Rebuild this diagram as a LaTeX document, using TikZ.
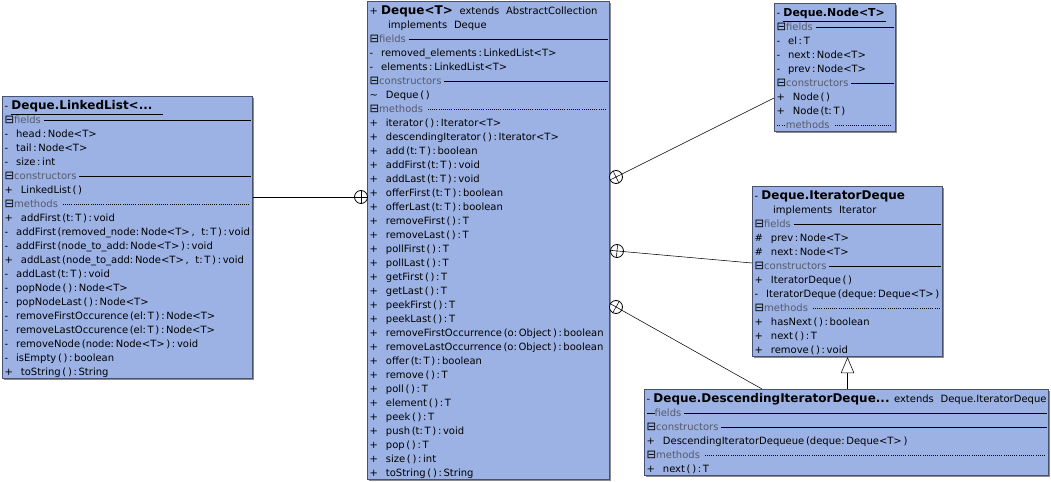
\documentclass[tikz,border=0pt]{standalone}
\usepackage{fontspec}
\setmainfont{DejaVu Sans}
\usetikzlibrary{arrows.meta,shadows}
\definecolor{boxfill}{RGB}{156,178,228}
\definecolor{boxline}{RGB}{72,82,112}
\definecolor{secgray}{RGB}{86,90,108}
\newcommand{\rs}{\rule[-1.4pt]{0pt}{10.5pt}}
\newcommand{\rse}{\rule[-1.4pt]{0pt}{1.4pt}}
\newcommand{\ttl}[1]{{\fontsize{9}{10.5}\selectfont\bfseries #1}}
\newcommand{\mem}[2]{\mbox{#1\hspace{6pt}#2}}
\newcommand{\fold}{{\fontsize{8.6}{10.5}\selectfont ⊟}}
\newcommand{\fline}{\leaders\hrule height 2.8pt depth -2.3pt\hfill}
\newcommand{\dotline}{\leaders\hbox to 1.6pt{\hss\rule[2.3pt]{0.45pt}{0.45pt}\hss}\hfill}
\newcommand{\fullrow}[1]{\leavevmode\hbox to \linewidth{#1}}
\newcommand{\sect}[1]{\fullrow{\fold{\color{secgray}#1}\hspace{2pt}\fline}}
\newcommand{\sectdot}[1]{\fullrow{\fold{\color{secgray}#1}\hspace{2pt}\dotline}}
\newcommand{\sectnone}[1]{\fullrow{\rule[2.3pt]{6pt}{0.5pt}{\color{secgray}#1}\hspace{2pt}\fline}}
\newcommand{\sectdots}[1]{\fullrow{\hbox to 7pt{\dotline}{\color{secgray}#1}\hspace{2pt}\dotline}}
\tikzset{
  classbox/.style={draw=boxline, fill=boxfill, line width=0.8pt, anchor=north west,
    align=left, inner xsep=1.5pt, inner ysep=0.75pt, font=\fontsize{7.5}{10.5}\selectfont,
    drop shadow={shadow xshift=1pt, shadow yshift=-1pt, fill=black, opacity=0.45}},
  nest/.style={circle, draw, fill=white, minimum size=9.75pt, inner sep=0pt, line width=0.6pt}
}
\begin{document}
\begin{tikzpicture}[x=0.75pt,y=-0.75pt]
\useasboundingbox (0,0) rectangle (1051,482);

% nested list class
\draw (2,96) node[classbox, text width=184.5pt] (ll) {\rs\mbox{- \underline{\ttl{Deque.LinkedList<...}\hspace{8pt}}}\\
\sect{fields}\\
\mem{-}{head\,:\,Node<T>}\\
\mem{-}{tail\,:\,Node<T>}\\
\mem{-}{size\,:\,int}\\
\sect{constructors}\\
\mem{+}{LinkedList\,(\,)}\\
\sectdot{methods}\\
\mem{+}{addFirst\,(t:\,T\,)\,:\,void}\\
\mem{-}{addFirst\,(removed\_node:\,Node<T>\,,\ \ t:\,T\,)\,:\,void}\\
\mem{-}{addFirst\,(node\_to\_add:\,Node<T>\,)\,:\,void}\\
\mem{+}{addLast\,(node\_to\_add:\,Node<T>\,,\ \ t:\,T\,)\,:\,void}\\
\mem{-}{addLast\,(t:\,T\,)\,:\,void}\\
\mem{-}{popNode\,(\,)\,:\,Node<T>}\\
\mem{-}{popNodeLast\,(\,)\,:\,Node<T>}\\
\mem{-}{removeFirstOccurence\,(el:\,T\,)\,:\,Node<T>}\\
\mem{-}{removeLastOccurence\,(el:\,T\,)\,:\,Node<T>}\\
\mem{-}{removeNode\,(node:\,Node<T>\,)\,:\,void}\\
\mem{-}{isEmpty\,(\,)\,:\,boolean}\\
\mem{+}{toString\,(\,)\,:\,String}\rse};

% main class
\draw (367,1) node[classbox, text width=178.5pt] (dq) {\rs\mbox{+ \ttl{Deque<T>}\ \ extends\ \ AbstractCollection}\\
\hspace{14pt}implements\ \ Deque\\
\sect{fields}\\
\mem{-}{removed\_elements\,:\,LinkedList<T>}\\
\mem{-}{elements\,:\,LinkedList<T>}\\
\sect{constructors}\\
\mem{\textasciitilde}{Deque\,(\,)}\\
\sectdot{methods}\\
\mem{+}{iterator\,(\,)\,:\,Iterator<T>}\\
\mem{+}{descendingIterator\,(\,)\,:\,Iterator<T>}\\
\mem{+}{add\,(t:\,T\,)\,:\,boolean}\\
\mem{+}{addFirst\,(t:\,T\,)\,:\,void}\\
\mem{+}{addLast\,(t:\,T\,)\,:\,void}\\
\mem{+}{offerFirst\,(t:\,T\,)\,:\,boolean}\\
\mem{+}{offerLast\,(t:\,T\,)\,:\,boolean}\\
\mem{+}{removeFirst\,(\,)\,:\,T}\\
\mem{+}{removeLast\,(\,)\,:\,T}\\
\mem{+}{pollFirst\,(\,)\,:\,T}\\
\mem{+}{pollLast\,(\,)\,:\,T}\\
\mem{+}{getFirst\,(\,)\,:\,T}\\
\mem{+}{getLast\,(\,)\,:\,T}\\
\mem{+}{peekFirst\,(\,)\,:\,T}\\
\mem{+}{peekLast\,(\,)\,:\,T}\\
\mem{+}{removeFirstOccurrence\,(o:\,Object\,)\,:\,boolean}\\
\mem{+}{removeLastOccurrence\,(o:\,Object\,)\,:\,boolean}\\
\mem{+}{offer\,(t:\,T\,)\,:\,boolean}\\
\mem{+}{remove\,(\,)\,:\,T}\\
\mem{+}{poll\,(\,)\,:\,T}\\
\mem{+}{element\,(\,)\,:\,T}\\
\mem{+}{peek\,(\,)\,:\,T}\\
\mem{+}{push\,(t:\,T\,)\,:\,void}\\
\mem{+}{pop\,(\,)\,:\,T}\\
\mem{+}{size\,(\,)\,:\,int}\\
\mem{+}{toString\,(\,)\,:\,String}\rse};

% nested node class
\draw (774,3) node[classbox, text width=87.75pt] (nd) {\rs\mbox{- \underline{{\fontsize{8.2}{10.5}\selectfont\bfseries Deque.Node<T>}\hspace{1pt}}}\\
\sect{fields}\\
\mem{-}{el\,:\,T}\\
\mem{-}{next\,:\,Node<T>}\\
\mem{-}{prev\,:\,Node<T>}\\
\sect{constructors}\\
\mem{+}{Node\,(\,)}\\
\mem{+}{Node\,(t:\,T\,)}\\
\sectdots{methods}\rse};

% iterators
\draw (752,186) node[classbox, text width=139.5pt] (it) {\rs\mbox{- \ttl{Deque.IteratorDeque}}\\
\hspace{14pt}implements\ \ Iterator\\
\sect{fields}\\
\mem{\#}{prev\,:\,Node<T>}\\
\mem{\#}{next\,:\,Node<T>}\\
\sect{constructors}\\
\mem{+}{IteratorDeque\,(\,)}\\
\mem{-}{IteratorDeque\,(deque:\,Deque<T>\,)}\\
\sectdot{methods}\\
\mem{+}{hasNext\,(\,)\,:\,boolean}\\
\mem{+}{next\,(\,)\,:\,T}\\
\mem{+}{remove\,(\,)\,:\,void}\rse};

\draw (644,389) node[classbox, text width=300pt] (ds) {\rs\fullrow{- \ttl{Deque.DescendingIteratorDeque...}\hfill extends\ \ Deque.IteratorDeque}\\
\sectnone{fields}\\
\sect{constructors}\\
\mem{+}{DescendingIteratorDequeue\,(deque:\,Deque<T>\,)}\\
\sectdot{methods}\\
\mem{+}{next\,(\,)\,:\,T}\rse};

% nesting marks
\draw (361,197) node[nest] (n1) {};
\draw (616,177) node[nest] (n2) {};
\draw (617,251) node[nest] (n3) {};
\draw (616,307) node[nest] (n4) {};
\draw (n1.north) -- (n1.south) (n1.east) -- (n1.west);
\draw (n2.26.6) -- (n2.206.6) (n2.116.6) -- (n2.296.6);
\draw (n3.-5.1) -- (n3.174.9) (n3.84.9) -- (n3.264.9);
\draw (n4.-29.3) -- (n4.150.7) (n4.60.7) -- (n4.240.7);

\draw (ll.east |- n1) -- (n1);
\draw ([yshift=-71.25pt]nd.north west) -- (n2);
\draw ([yshift=-57.75pt]it.north west) -- (n3);
\draw ([xshift=88.5pt]ds.north west) -- (n4);
\draw [-{Triangle[open,length=12pt,width=10pt]}] (it.south |- ds.north) -- (it.south);
\end{tikzpicture}
\end{document}
